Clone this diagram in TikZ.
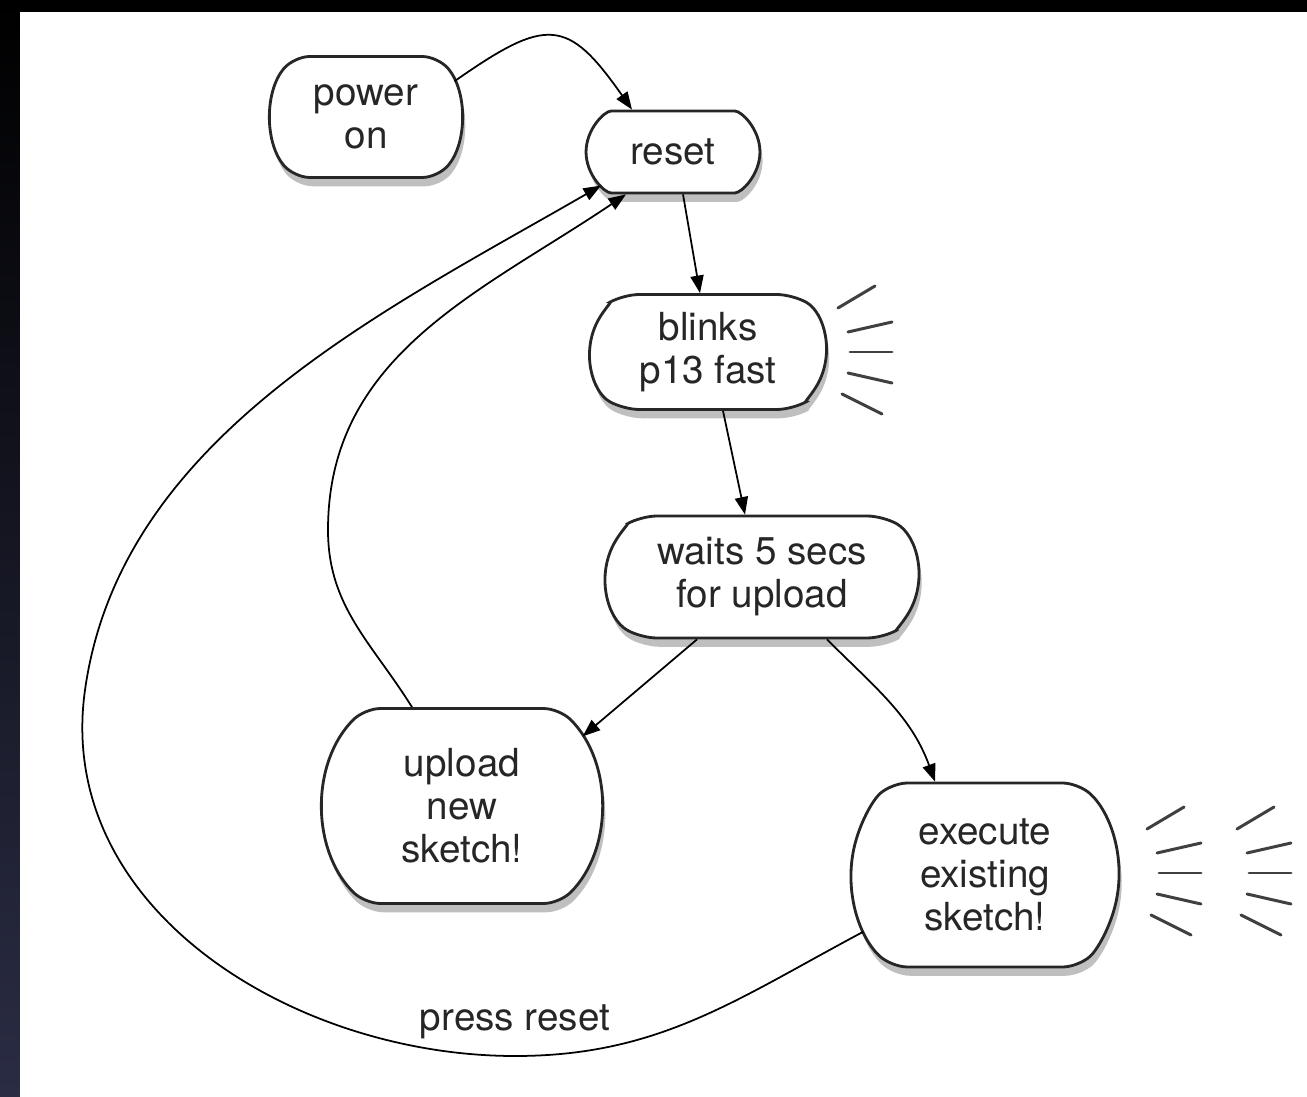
\documentclass[tikz,border=0pt]{standalone}
\usepackage{fontspec}
\setmainfont{TeX Gyre Heros}
\usetikzlibrary{shapes.misc, arrows.meta, shadows}
\newcommand{\statefont}{\fontsize{22}{24.5}\selectfont}
\tikzstyle{state} = [rounded rectangle, rounded corners=9pt, draw=black!85, line width=1.6pt, fill=white, text=black!85, align=center, font=\statefont, inner sep=2pt, drop shadow={shadow xshift=1.5pt, shadow yshift=-5pt, opacity=0.5}]
\tikzstyle{arrow} = [line width=1pt, -{Triangle[length=10pt,width=7.5pt]}]
\tikzstyle{glowline} = [line width=1.7pt, black!75, line cap=round]
\tikzstyle{edgelabel} = [font=\statefont, text=black!85]
\newcommand{\glow}[1]{%
	\draw[glowline] ([shift={(-12,-44)}]#1) -- ++(37,-22);
	\draw[glowline] ([shift={(-2,-20)}]#1) -- ++(44,-10);
	\draw[glowline] (#1) -- ++(42,0);
	\draw[glowline] ([shift={(-2,21)}]#1) -- ++(44,10);
	\draw[glowline] ([shift={(-8,42)}]#1) -- ++(40,20);
}
\begin{document}
\begin{tikzpicture}[x=0.02cm, y=-0.02cm]
			
			\useasboundingbox (0,0) rectangle (1307,1097);
			
			% Rand
			\shade[top color=black, bottom color={rgb,255:red,42;green,44;blue,68}] (0,0) rectangle (20,1097);
			\fill[black] (20,0) rectangle (1307,12);
			\fill[white] (20,12) rectangle (1307,1097);
			
			% Zustaende
			\node (power) [state, minimum width=3.5cm, minimum height=2.42cm, rounded rectangle arc length=80] at (366,117) {power\\on};
			\node (reset) [state, minimum width=3.62cm, minimum height=1.64cm] at (673,152) {reset};
			\node (blinks) [state, minimum width=4.86cm, minimum height=2.3cm, rounded rectangle arc length=120] at (708,352) {blinks\\p13 fast};
			\node (waits) [state, minimum width=6.4cm, minimum height=2.44cm, rounded rectangle arc length=120] at (762,577) {waits 5 secs\\for upload};
			\node (upload) [state, minimum width=5.58cm, minimum height=3.9cm, rounded rectangle arc length=90] at (462,806) {upload\\new\\sketch!};
			\node (execute) [state, minimum width=5.5cm, minimum height=3.68cm, rounded rectangle arc length=95] at (985,875) {execute\\existing\\sketch!};
			
			% Blinkstriche
			\coordinate (blinkglow) at (850,352);
			\coordinate (execglowA) at (1159,873);
			\coordinate (execglowB) at (1249,873);
			\glow{blinkglow}
			\glow{execglowA}
			\glow{execglowB}
			
			% Hilfspunkte fuer die Boegen
			\coordinate (bend) at (328,530);
			\coordinate (low) at (515,1056);
			\coordinate (far) at (85,690);
			
			% Pfeile
			\draw [arrow] (power.22) to[out=35, in=125, looseness=1.6] ([xshift=-0.82cm]reset.north);
			\draw [arrow] ([xshift=0.2cm]reset.south) -- ([xshift=-0.16cm]blinks.north);
			\draw [arrow] ([xshift=0.3cm]blinks.south) -- ([xshift=-0.34cm]waits.north);
			\draw [arrow] ([xshift=-1.3cm]waits.south) -- (upload.30);
			\draw [arrow] ([xshift=1.3cm]waits.south) to[out=-45, in=110] ([xshift=-1cm]execute.north);
			\draw [arrow] ([xshift=-1cm]upload.north) to[out=122, in=-90] (bend) to[out=90, in=214] ([xshift=-0.94cm]reset.south);
			\draw [arrow] (execute.205) to[out=208, in=0] (low) node (presslabel) [edgelabel, above=6pt] {press reset} to[out=180, in=-98] (far) to[out=82, in=210, looseness=0.9] (reset.205);
			
		\end{tikzpicture}
\end{document}
